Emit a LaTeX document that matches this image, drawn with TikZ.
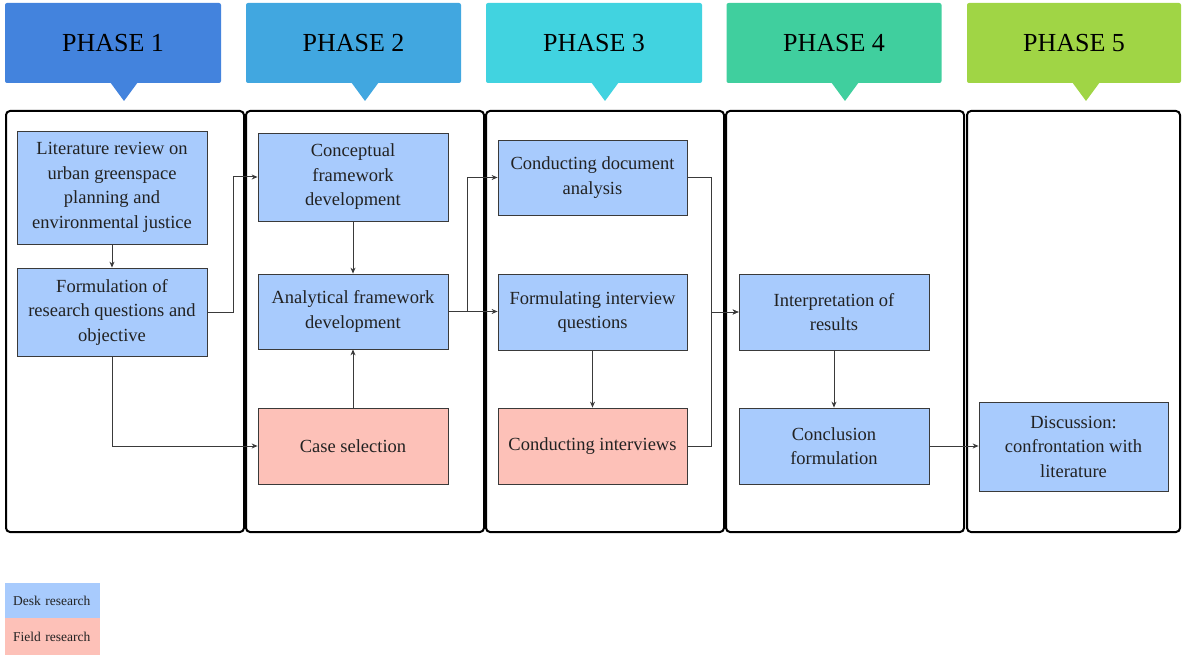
\documentclass[tikz,border=0pt]{standalone}
\usepackage{fontspec}
\setmainfont{Liberation Serif}
\usetikzlibrary{arrows.meta}
\definecolor{ph1}{HTML}{4383DD}
\definecolor{ph2}{HTML}{41A7E0}
\definecolor{ph3}{HTML}{41D3E0}
\definecolor{ph4}{HTML}{40CF9E}
\definecolor{ph5}{HTML}{A0D545}
\definecolor{desk}{HTML}{A8CBFD}
\definecolor{field}{HTML}{FDC1B8}
\definecolor{txt}{HTML}{222222}
\definecolor{edge}{HTML}{3A3A3A}
\tikzset{
  header/.style={minimum width=#1, minimum height=80pt, inner sep=0pt, rounded corners=2pt,
    font=\fontsize{26}{30}\selectfont, text=black},
  frame/.style={draw=black, line width=2pt, rounded corners=4pt},
  box/.style={draw=edge, line width=0.8pt, fill=desk, inner sep=2pt, align=center,
    font=\fontsize{18.5}{24.5}\selectfont, text=txt},
  fbox/.style={box, fill=field},
  conn/.style={draw=edge, line width=1pt, -{Stealth[length=6pt,width=5pt]}},
  legend/.style={minimum width=95pt, inner sep=0pt, anchor=north west, text width=95pt,
    font=\fontsize{13.5}{16}\selectfont, text=txt}
}
\begin{document}
\begin{tikzpicture}[x=1pt,y=-1pt]
\useasboundingbox (0,0) rectangle (1183,655);
% headers
\node[header=216pt, fill=ph1] (h1) at (113,43) {PHASE 1};
\fill[ph1] (110,82) -- (124,101) -- (138,82) -- cycle;
\node[header=215pt, fill=ph2] (h2) at (353.5,43) {PHASE 2};
\fill[ph2] (351,82) -- (365,101) -- (379,82) -- cycle;
\node[header=216pt, fill=ph3] (h3) at (594,43) {PHASE 3};
\fill[ph3] (591,82) -- (605,101) -- (619,82) -- cycle;
\node[header=215pt, fill=ph4] (h4) at (834,43) {PHASE 4};
\fill[ph4] (831,82) -- (845,101) -- (859,82) -- cycle;
\node[header=214pt, fill=ph5] (h5) at (1074,43) {PHASE 5};
\fill[ph5] (1072,82) -- (1086,101) -- (1100,82) -- cycle;
% frames
\draw[frame] (6,111) rectangle (244,532);
\draw[frame] (246,111) rectangle (484,532);
\draw[frame] (486,111) rectangle (724,532);
\draw[frame] (726,111) rectangle (964,532);
\draw[frame] (967,111) rectangle (1180,532);
% boxes
\node[box, minimum width=190pt, minimum height=113pt] (A) at (112,187.5) {Literature review on\\urban greenspace\\planning and\\environmental justice};
\node[box, minimum width=190pt, minimum height=88pt] (B) at (112,312) {Formulation of\\research questions and\\objective};
\node[box, minimum width=190pt, minimum height=88pt] (C) at (353,177) {Conceptual\\framework\\development};
\node[box, minimum width=190pt, minimum height=75pt] (D) at (353,311.5) {Analytical framework\\development};
\node[fbox, minimum width=190pt, minimum height=76pt] (E) at (353,446) {Case selection};
\node[box, minimum width=189pt, minimum height=75pt] (F) at (592.5,177.5) {Conducting document\\analysis};
\node[box, minimum width=189pt, minimum height=76pt] (G) at (592.5,312) {Formulating interview\\questions};
\node[fbox, minimum width=189pt, minimum height=76pt] (H) at (592.5,446) {Conducting interviews};
\node[box, minimum width=190pt, minimum height=76pt] (I) at (834,312) {Interpretation of\\results};
\node[box, minimum width=190pt, minimum height=76pt] (J) at (834,446) {Conclusion\\formulation};
\node[box, minimum width=189pt, minimum height=89pt] (K) at (1073.5,446.5) {Discussion:\\confrontation with\\literature};
% connectors
\draw[conn] (A) -- (B);
\draw[conn] (B.east) -- ++(26,0) |- (C.west);
\draw[conn] (B.south) |- (E.west);
\draw[conn] (C) -- (D);
\draw[conn] (E) -- (D);
\draw[conn] (D.east) -- ++(19,0) |- (F.west);
\draw[conn] (D.east) -- (D.east -| G.west);
\draw[conn] (G) -- (H);
\draw[conn] (F.east) -- ++(24,0) |- (I.west);
\draw[conn] (H.east) -- ++(24,0) |- (I.west);
\draw[conn] (I) -- (J);
\draw[conn] (J.east) -- (J.east -| K.west);
% legend
\node[legend, fill=desk, minimum height=35pt] (L1) at (5,583) {\hspace*{8pt}Desk research};
\node[legend, fill=field, minimum height=37pt] (L2) at (5,618) {\hspace*{8pt}Field research};
\end{tikzpicture}
\end{document}
